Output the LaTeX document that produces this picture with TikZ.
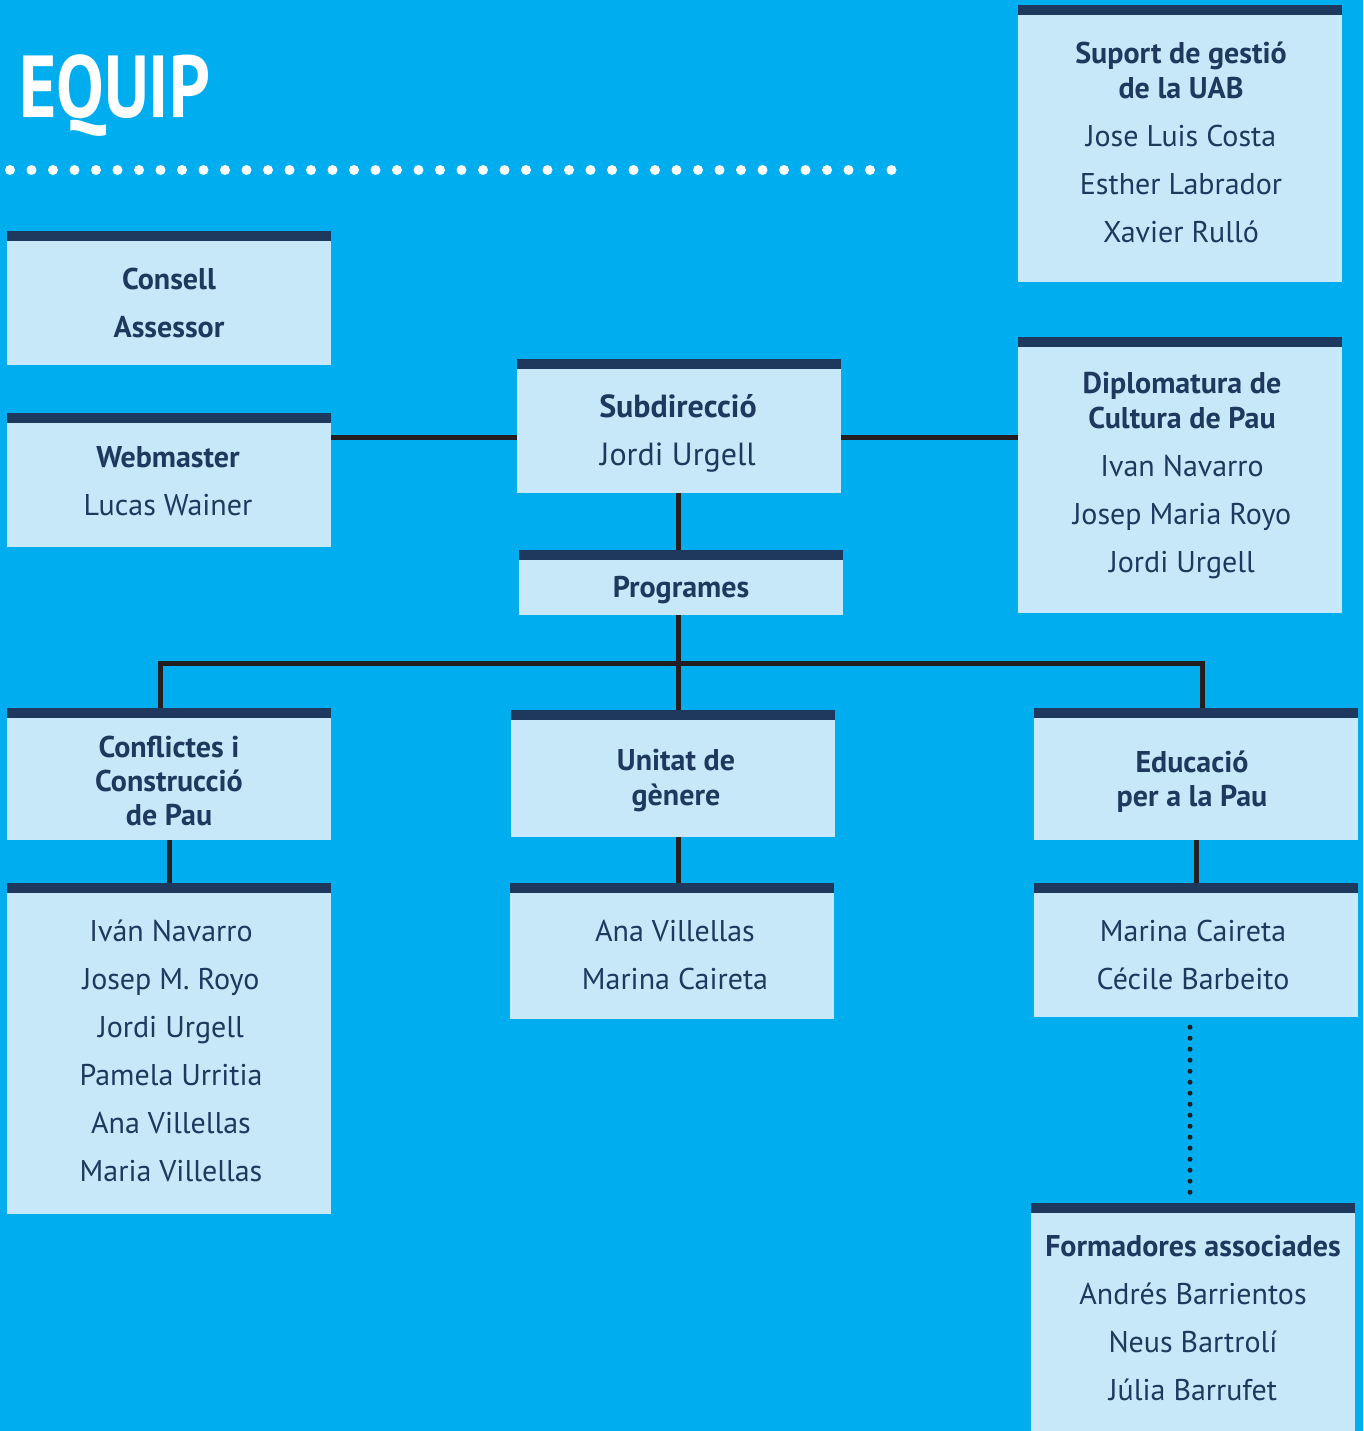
\documentclass[tikz,border=0pt]{standalone}
\usepackage{fontspec}
\usepackage{graphicx}
\setmainfont{PT Sans}
\definecolor{bgc}{RGB}{0,174,239}
\definecolor{boxc}{RGB}{198,232,249}
\definecolor{navy}{RGB}{30,56,94}
\definecolor{linec}{RGB}{35,31,32}
\tikzset{
  orgbox/.style={fill=boxc, inner sep=0pt, minimum width=324pt, draw=none},
  txt/.style={text=navy, align=center, inner sep=0pt, font=\fontsize{30}{48}\selectfont},
  conn/.style={draw=linec, line width=5pt},
  dotconn/.style={draw=linec, line width=5pt, line cap=round, dash pattern=on 0pt off 11pt},
}
\newcommand{\headbar}[1]{\fill[navy] (#1.north west) rectangle ([yshift=-10pt]#1.north east);}
\begin{document}
\begin{tikzpicture}[x=1pt,y=-1pt]
\useasboundingbox (0,0) rectangle (1363,1431);
\fill[bgc] (0,0) rectangle (1363,1431);
% title
\node[text=white, inner sep=0pt, anchor=base, font=\fontsize{88}{88}\selectfont\bfseries] (ttl) at (114.5,118) {\scalebox{0.81}[1]{EQUIP}};
\draw[white, line width=10pt, line cap=round, dash pattern=on 0pt off 21.5pt] (10,170) -- (894,170);
% boxes
\node[orgbox, minimum height=277pt] (sup) at (1180,143.5) {};
\node[orgbox, minimum height=134pt] (con) at (169,298) {};
\node[orgbox, minimum height=134pt] (web) at (169,480) {};
\node[orgbox, minimum height=134pt] (sub) at (679,426) {};
\node[orgbox, minimum height=276pt] (dip) at (1180,475) {};
\node[orgbox, minimum height=65pt] (prog) at (681,582.5) {};
\node[orgbox, minimum height=132pt] (cfl) at (169,774) {};
\node[orgbox, minimum height=127pt] (uni) at (673,773.5) {};
\node[orgbox, minimum height=132pt] (edu) at (1196,774) {};
\node[orgbox, minimum height=331pt] (cflm) at (169,1048.5) {};
\node[orgbox, minimum height=136pt] (unim) at (672,951) {};
\node[orgbox, minimum height=134pt] (edum) at (1196,950) {};
\node[orgbox, minimum height=228pt] (form) at (1193,1317) {};
\foreach \n in {sup,con,web,sub,dip,prog,cfl,uni,edu,cflm,unim,edum,form}{\headbar{\n}}
% texts
\node[txt] (tsup) at (1181,142.5) {\textbf{Suport de gestió}\\[-13pt]\textbf{de la UAB}\\Jose Luis Costa\\Esther Labrador\\Xavier Rulló};
\node[txt] (tcon) at (169,303) {\textbf{Consell}\\\textbf{Assessor}};
\node[txt] (tweb) at (168,481) {\textbf{Webmaster}\\Lucas Wainer};
\node[txt, font=\fontsize{32}{48}\selectfont] (tsub) at (678,433) {\textbf{Subdirecció}\\Jordi Urgell};
\node[txt] (tdip) at (1182,476) {\textbf{Diplomatura de}\\[-13pt]\textbf{Cultura de Pau}\\Ivan Navarro\\Josep Maria Royo\\Jordi Urgell};
\node[txt] (tprog) at (681,590) {\textbf{Programes}};
\node[txt, font=\fontsize{30}{34}\selectfont] (tcfl) at (169,781) {\textbf{Conflictes i}\\\textbf{Construcció}\\\textbf{de Pau}};
\node[txt, font=\fontsize{30}{35}\selectfont] (tuni) at (676,781) {\textbf{Unitat de}\\\textbf{gènere}};
\node[txt, font=\fontsize{30}{34}\selectfont] (tedu) at (1192,782) {\textbf{Educació}\\\textbf{per a la Pau}};
\node[txt] (tcflm) at (171,1051) {Iván Navarro\\Josep M. Royo\\Jordi Urgell\\Pamela Urritia\\Ana Villellas\\Maria Villellas};
\node[txt] (tunim) at (675,955) {Ana Villellas\\Marina Caireta};
\node[txt] (tedum) at (1193,955) {Marina Caireta\\Cécile Barbeito};
\node[txt] (tform) at (1193,1318) {\textbf{Formadores associades}\\Andrés Barrientos\\Neus Bartrolí\\Júlia Barrufet};
% connectors
\coordinate (ysub) at (0,437);
\coordinate (tx) at (678,0);
\coordinate (lx) at (160,663);
\coordinate (rx) at (1202,663);
\coordinate (dx) at (1190,0);
\draw[conn] (web.east |- ysub) -- (sub.west |- ysub);
\draw[conn] (sub.east |- ysub) -- (dip.west |- ysub);
\draw[conn] (sub.south -| tx) -- (prog.north -| tx);
\draw[conn] (prog.south -| tx) -- (uni.north -| tx);
\draw[conn] (cfl.north -| lx) -- (lx) -- (rx) -- (edu.north -| rx);
\draw[conn] (cfl.south) -- (cflm.north);
\draw[conn] (uni.south -| tx) -- (unim.north -| tx);
\draw[conn] (edu.south) -- (edum.north);
\draw[dotconn] ([yshift=-10pt]edum.south -| dx) -- ([yshift=2pt]form.north -| dx);
\end{tikzpicture}
\end{document}
